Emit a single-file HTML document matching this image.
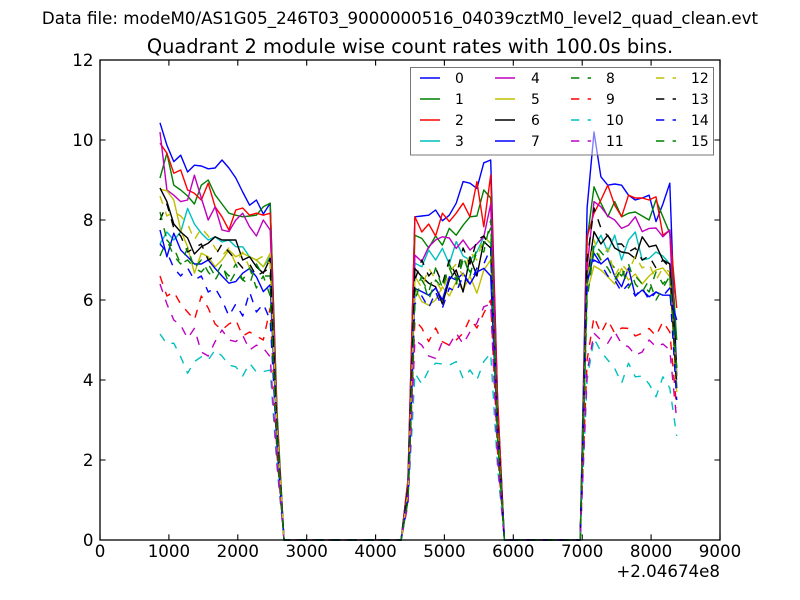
<!DOCTYPE html>
<html>
<head>
<meta charset="utf-8">
<style>
html,body{margin:0;padding:0;background:#fff;}
svg{display:block;}
text{font-family:"DejaVu Sans","Liberation Sans",sans-serif;fill:#000;}
.s{fill:none;stroke-width:1.4;stroke-linejoin:round;}
.d{stroke-dasharray:8.3,8.3;}
</style>
</head>
<body>
<svg width="800" height="600" viewBox="0 0 800 600" xmlns="http://www.w3.org/2000/svg">
<rect x="0" y="0" width="800" height="600" fill="#fff"/>
<text x="400" y="24" font-size="16.67" text-anchor="middle">Data file: modeM0/AS1G05_246T03_9000000516_04039cztM0_level2_quad_clean.evt</text>
<text x="410" y="53" font-size="19.4" text-anchor="middle">Quadrant 2 module wise count rates with 100.0s bins.</text>
<rect x="100" y="60" width="620" height="480" fill="#fff"/>

<polyline class="s" stroke="#0000ff" points="160,122.8 166.9,145.2 173.8,161.6 180.7,155.2 187.6,172 194.4,165.2 201.3,166 208.2,168.8 215.1,168 222,160 228.9,168 235.8,178 242.7,192 249.6,205.2 256.4,200 263.3,214 270.2,203.2 277.1,420 284,540 401.1,540 408,480 414.9,216.8 421.8,216 428.7,215.2 435.6,210 442.4,220.8 449.3,215.2 456.2,203.2 463.1,181.6 470,183.2 476.9,188.4 483.8,162.8 490.7,160 497.6,400 504.4,540 580.2,540 587.1,208 594,132 600.9,176.8 607.8,185.2 614.7,184 621.6,185.2 628.5,195.2 635.3,200 642.2,198 649.1,195.2 656,221.6 662.9,204 669.8,183.2 676.7,376"/>
<polyline class="s" stroke="#008000" points="160,178 166.9,153.2 173.8,185.2 180.7,190 187.6,196 194.4,204 201.3,185.2 208.2,180 215.1,194.8 222,204 228.9,213.2 235.8,215.2 242.7,216.8 249.6,216 256.4,215.2 263.3,206.8 270.2,203.2 277.1,412 284,540 401.1,540 408,484 414.9,235.2 421.8,238.4 428.7,248 435.6,236 442.4,245.2 449.3,228.4 456.2,235.2 463.1,225.2 470,216.8 476.9,216 483.8,190 490.7,198 497.6,408 504.4,540 580.2,540 587.1,240 594,186.8 600.9,203.2 607.8,216.8 614.7,201.6 621.6,216.8 628.5,213.2 635.3,212 642.2,216 649.1,220 656,200 662.9,216.8 669.8,233.2 676.7,340"/>
<polyline class="s" stroke="#ff0000" points="160,143.2 166.9,153.2 173.8,173.2 180.7,170 187.6,190 194.4,193.2 201.3,200 208.2,183.2 215.1,206.8 222,216.8 228.9,230 235.8,210 242.7,208 249.6,215.2 256.4,213.2 263.3,215.2 270.2,213.2 277.1,420 284,540 401.1,540 408,480 414.9,216.8 421.8,232 428.7,224 435.6,236 442.4,213.2 449.3,221.6 456.2,213.2 463.1,203.2 470,216.8 476.9,181.6 483.8,226.8 490.7,175 497.6,400 504.4,540 580.2,540 587.1,236.8 594,213.2 600.9,200 607.8,185.2 614.7,205.2 621.6,216.8 628.5,195.2 635.3,198 642.2,198 649.1,200 656,196.8 662.9,235.2 669.8,230 676.7,308"/>
<polyline class="s" stroke="#00bfbf" points="160,244 166.9,232 173.8,240 180.7,232 187.6,208.4 194.4,224 201.3,233.2 208.2,240 215.1,236.8 222,242 228.9,240 235.8,246.8 242.7,246.8 249.6,256.8 256.4,260 263.3,266.8 270.2,256.8 277.1,436 284,540 401.1,540 408,492 414.9,263.2 421.8,266.8 428.7,250 435.6,260 442.4,248.4 449.3,264 456.2,241.6 463.1,256 470,260 476.9,252 483.8,236.8 490.7,243.2 497.6,428 504.4,540 580.2,540 587.1,280 594,248 600.9,235.2 607.8,252 614.7,235.2 621.6,260 628.5,240 635.3,232 642.2,260 649.1,258.4 656,252 662.9,256 669.8,264 676.7,380"/>
<polyline class="s" stroke="#bf00bf" points="160,132 166.9,190 173.8,195.2 180.7,201.6 187.6,200 194.4,175.2 201.3,198 208.2,220 215.1,206.8 222,230 228.9,231.6 235.8,220 242.7,213.2 249.6,226.8 256.4,236 263.3,220 270.2,230 277.1,424 284,540 401.1,540 408,488 414.9,255.2 421.8,261.6 428.7,246.8 435.6,240 442.4,236.8 449.3,238 456.2,248.4 463.1,240 470,250 476.9,244 483.8,236.8 490.7,204 497.6,420 504.4,540 580.2,540 587.1,268 594,201.6 600.9,206.8 607.8,216 614.7,220 621.6,228.4 628.5,225.2 635.3,216.8 642.2,231.6 649.1,228.4 656,228 662.9,236.8 669.8,230 676.7,388"/>
<polyline class="s" stroke="#bfbf00" points="160,189.2 166.9,190.8 173.8,200 180.7,230 187.6,246.8 194.4,273.2 201.3,253.2 208.2,256.8 215.1,266.8 222,260 228.9,250 235.8,256.8 242.7,253.2 249.6,256.8 256.4,260 263.3,266.8 270.2,253.2 277.1,428 284,540 401.1,540 408,492 414.9,288 421.8,301.6 428.7,305.2 435.6,300 442.4,286.8 449.3,296 456.2,281.6 463.1,290 470,276 476.9,293.2 483.8,270 490.7,260 497.6,428 504.4,540 580.2,540 587.1,292 594,266 600.9,270 607.8,276.8 614.7,284 621.6,268.4 628.5,280 635.3,274 642.2,284 649.1,276 656,270 662.9,268 669.8,276.8 676.7,392"/>
<polyline class="s" stroke="#000000" points="160,188 166.9,201.6 173.8,224 180.7,232 187.6,238 194.4,254 201.3,246.8 208.2,243.2 215.1,236.8 222,240 228.9,240 235.8,240 242.7,260 249.6,256.8 256.4,266.8 263.3,273.2 270.2,258.4 277.1,432 284,540 401.1,540 408,488 414.9,268.4 421.8,276.8 428.7,283.2 435.6,286.8 442.4,304 449.3,280 456.2,270 463.1,292 470,256.8 476.9,276 483.8,241.6 490.7,248 497.6,424 504.4,540 580.2,540 587.1,280 594,231.6 600.9,244 607.8,235.2 614.7,248 621.6,252 628.5,253.2 635.3,258.4 642.2,236.8 649.1,246.8 656,245.2 662.9,260 669.8,264 676.7,368"/>
<polyline class="s" stroke="#0000ff" points="160,230 166.9,256.8 173.8,233.2 180.7,250 187.6,256.8 194.4,264 201.3,264 208.2,260 215.1,268.4 222,276 228.9,283.2 235.8,281.6 242.7,273.2 249.6,268.4 256.4,276.8 263.3,291.6 270.2,284.8 277.1,440 284,540 401.1,540 408,492 414.9,288.4 421.8,291.6 428.7,295.2 435.6,288 442.4,300 449.3,276.8 456.2,280 463.1,273.2 470,284 476.9,272 483.8,268.4 490.7,276 497.6,436 504.4,540 580.2,540 587.1,284 594,253.2 600.9,264 607.8,258 614.7,276 621.6,286.8 628.5,268 635.3,296 642.2,290 649.1,296.8 656,292 662.9,295.2 669.8,295.2 676.7,320"/>
<polyline class="s d" stroke="#008000" points="160,256 166.9,240 173.8,248 180.7,264 187.6,260 194.4,268 201.3,260 208.2,272 215.1,280 222,268 228.9,276 235.8,264 242.7,280 249.6,284 256.4,264 263.3,276 270.2,276 277.1,440 284,540 401.1,540 408,496 414.9,292 421.8,276 428.7,300 435.6,280 442.4,288 449.3,268 456.2,284 463.1,260 470,272 476.9,252 483.8,244 490.7,228 497.6,440 504.4,540 580.2,540 587.1,284 594,244 600.9,252 607.8,260 614.7,268 621.6,276 628.5,264 635.3,284 642.2,292 649.1,280 656,300 662.9,288 669.8,276 676.7,388"/>
<polyline class="s d" stroke="#ff0000" points="160,276 166.9,296 173.8,292 180.7,304 187.6,312 194.4,320 201.3,296 208.2,308 215.1,324 222,330 228.9,324 235.8,320 242.7,336 249.6,332 256.4,336 263.3,340 270.2,308 277.1,456 284,540 401.1,540 408,500 414.9,320 421.8,328 428.7,341.6 435.6,328 442.4,341.6 449.3,345.2 456.2,340 463.1,333.2 470,318.4 476.9,328 483.8,313.2 490.7,300 497.6,452 504.4,540 580.2,540 587.1,360 594,316.8 600.9,333.2 607.8,320 614.7,333.2 621.6,328 628.5,328.4 635.3,336 642.2,333.2 649.1,328.4 656,336 662.9,321.6 669.8,332 676.7,408"/>
<polyline class="s d" stroke="#00bfbf" points="160,334 166.9,344 173.8,343.2 180.7,356.8 187.6,373.2 194.4,361.6 201.3,356.8 208.2,360 215.1,350 222,356 228.9,365.2 235.8,366.8 242.7,376 249.6,363.2 256.4,372 263.3,371.6 270.2,370 277.1,468 284,540 401.1,540 408,504 414.9,373.2 421.8,384 428.7,370 435.6,363.2 442.4,364 449.3,365.2 456.2,361.6 463.1,378.4 470,370 476.9,380 483.8,361.6 490.7,353.2 497.6,468 504.4,540 580.2,540 587.1,380 594,338.4 600.9,351.6 607.8,360 614.7,368.4 621.6,383.2 628.5,363.2 635.3,376.8 642.2,376 649.1,384 656,396.8 662.9,376.8 669.8,388 676.7,436"/>
<polyline class="s d" stroke="#bf00bf" points="160,284 166.9,304 173.8,320 180.7,325.2 187.6,338.4 194.4,328.4 201.3,352 208.2,356 215.1,341.6 222,330 228.9,340 235.8,341.6 242.7,335.2 249.6,350 256.4,345.2 263.3,348 270.2,356.8 277.1,464 284,540 401.1,540 408,504 414.9,340 421.8,345.2 428.7,356 435.6,358.4 442.4,341.6 449.3,345.2 456.2,333.2 463.1,344 470,332 476.9,323.2 483.8,306.8 490.7,304 497.6,460 504.4,540 580.2,540 587.1,372 594,333.2 600.9,340 607.8,343.2 614.7,331.6 621.6,344 628.5,346.8 635.3,355.2 642.2,352 649.1,340 656,346.8 662.9,344 669.8,350 676.7,420"/>
<polyline class="s d" stroke="#bfbf00" points="160,196 166.9,216 173.8,212 180.7,216 187.6,224 194.4,240 201.3,228 208.2,236 215.1,248 222,256 228.9,248 235.8,264 242.7,252 249.6,268 256.4,260 263.3,256 270.2,264 277.1,432 284,540 401.1,540 408,492 414.9,276 421.8,288 428.7,268 435.6,280 442.4,292 449.3,272 456.2,264 463.1,276 470,252 476.9,260 483.8,236 490.7,244 497.6,424 504.4,540 580.2,540 587.1,280 594,240 600.9,260 607.8,248 614.7,276 621.6,264 628.5,272 635.3,256 642.2,268 649.1,264 656,280 662.9,268 669.8,272 676.7,380"/>
<polyline class="s d" stroke="#000000" points="160,220 166.9,204 173.8,228 180.7,236 187.6,252 194.4,248 201.3,244 208.2,260 215.1,256 222,244 228.9,252 235.8,260 242.7,268 249.6,264 256.4,276 263.3,272 270.2,268 277.1,436 284,540 401.1,540 408,496 414.9,280 421.8,260 428.7,276 435.6,268 442.4,284 449.3,260 456.2,276 463.1,248 470,264 476.9,240 483.8,236 490.7,248 497.6,432 504.4,540 580.2,540 587.1,260 594,208 600.9,228 607.8,236 614.7,244 621.6,244 628.5,252 635.3,248 642.2,260 649.1,256 656,268 662.9,260 669.8,268 676.7,388"/>
<polyline class="s d" stroke="#0000ff" points="160,244 166.9,252 173.8,268 180.7,276 187.6,268 194.4,280 201.3,276 208.2,292 215.1,288 222,300 228.9,316 235.8,304 242.7,316 249.6,292 256.4,312 263.3,304 270.2,320 277.1,448 284,540 401.1,540 408,500 414.9,304 421.8,296 428.7,308 435.6,292 442.4,308 449.3,288 456.2,292 463.1,276 470,284 476.9,268 483.8,264 490.7,248 497.6,436 504.4,540 580.2,540 587.1,280 594,260 600.9,264 607.8,276 614.7,280 621.6,292 628.5,284 635.3,296 642.2,288 649.1,300 656,292 662.9,296 669.8,288 676.7,400"/>
<polyline class="s d" stroke="#008000" points="160,212 166.9,240 173.8,256 180.7,264 187.6,248 194.4,268 201.3,272 208.2,264 215.1,276 222,264 228.9,284 235.8,272 242.7,280 249.6,268 256.4,288 263.3,276 270.2,296 277.1,444 284,540 401.1,540 408,500 414.9,300 421.8,280 428.7,292 435.6,268 442.4,288 449.3,264 456.2,280 463.1,256 470,276 476.9,248 483.8,252 490.7,220 497.6,436 504.4,540 580.2,540 587.1,300 594,248 600.9,260 607.8,268 614.7,280 621.6,268 628.5,288 635.3,276 642.2,284 649.1,292 656,272 662.9,284 669.8,276 676.7,368"/>

<!-- axes frame -->
<rect x="100" y="60" width="620" height="480" fill="none" stroke="#000" stroke-width="1.3"/>
<!-- ticks -->
<g stroke="#000" stroke-width="1.1">
<path d="M100,540v-5.6M168.9,540v-5.6M237.8,540v-5.6M306.7,540v-5.6M375.6,540v-5.6M444.4,540v-5.6M513.3,540v-5.6M582.2,540v-5.6M651.1,540v-5.6M720,540v-5.6"/>
<path d="M100,60v5.6M168.9,60v5.6M237.8,60v5.6M306.7,60v5.6M375.6,60v5.6M444.4,60v5.6M513.3,60v5.6M582.2,60v5.6M651.1,60v5.6M720,60v5.6"/>
<path d="M100,540h5.6M100,460h5.6M100,380h5.6M100,300h5.6M100,220h5.6M100,140h5.6M100,60h5.6"/>
<path d="M720,540h-5.6M720,460h-5.6M720,380h-5.6M720,300h-5.6M720,220h-5.6M720,140h-5.6M720,60h-5.6"/>
</g>
<!-- tick labels -->
<g font-size="16.67" text-anchor="middle">
<text x="100" y="557">0</text>
<text x="168.9" y="557">1000</text>
<text x="237.8" y="557">2000</text>
<text x="306.7" y="557">3000</text>
<text x="375.6" y="557">4000</text>
<text x="444.4" y="557">5000</text>
<text x="513.3" y="557">6000</text>
<text x="582.2" y="557">7000</text>
<text x="651.1" y="557">8000</text>
<text x="720" y="557">9000</text>
</g>
<g font-size="16.67" text-anchor="end">
<text x="93.5" y="545.8">0</text>
<text x="93.5" y="465.8">2</text>
<text x="93.5" y="385.8">4</text>
<text x="93.5" y="305.8">6</text>
<text x="93.5" y="225.8">8</text>
<text x="93.5" y="145.8">10</text>
<text x="93.5" y="65.8">12</text>
<text x="720" y="577">+2.04674e8</text>
</g>

<!-- legend -->
<rect x="410.5" y="67.5" width="303" height="87.5" fill="#fff" fill-opacity="0.5" stroke="#777" stroke-width="1"/>
<g stroke-width="1.4" fill="none">
<line x1="420" y1="78" x2="440" y2="78" stroke="#0000ff"/>
<line x1="420" y1="99" x2="440" y2="99" stroke="#008000"/>
<line x1="420" y1="120" x2="440" y2="120" stroke="#ff0000"/>
<line x1="420" y1="141" x2="440" y2="141" stroke="#00bfbf"/>
<line x1="495" y1="78" x2="515" y2="78" stroke="#bf00bf"/>
<line x1="495" y1="99" x2="515" y2="99" stroke="#bfbf00"/>
<line x1="495" y1="120" x2="515" y2="120" stroke="#000000"/>
<line x1="495" y1="141" x2="515" y2="141" stroke="#0000ff"/>
<g stroke-dasharray="8.3,8.3">
<line x1="571" y1="78" x2="591" y2="78" stroke="#008000"/>
<line x1="571" y1="99" x2="591" y2="99" stroke="#ff0000"/>
<line x1="571" y1="120" x2="591" y2="120" stroke="#00bfbf"/>
<line x1="571" y1="141" x2="591" y2="141" stroke="#bf00bf"/>
<line x1="656" y1="78" x2="676" y2="78" stroke="#bfbf00"/>
<line x1="656" y1="99" x2="676" y2="99" stroke="#000000"/>
<line x1="656" y1="120" x2="676" y2="120" stroke="#0000ff"/>
<line x1="656" y1="141" x2="676" y2="141" stroke="#008000"/>
</g>
</g>
<g font-size="13.9">
<text x="455" y="83">0</text>
<text x="455" y="104">1</text>
<text x="455" y="125">2</text>
<text x="455" y="146">3</text>
<text x="531" y="83">4</text>
<text x="531" y="104">5</text>
<text x="531" y="125">6</text>
<text x="531" y="146">7</text>
<text x="606" y="83">8</text>
<text x="606" y="104">9</text>
<text x="606" y="125">10</text>
<text x="606" y="146">11</text>
<text x="691" y="83">12</text>
<text x="691" y="104">13</text>
<text x="691" y="125">14</text>
<text x="691" y="146">15</text>
</g>
</svg>
</body>
</html>
